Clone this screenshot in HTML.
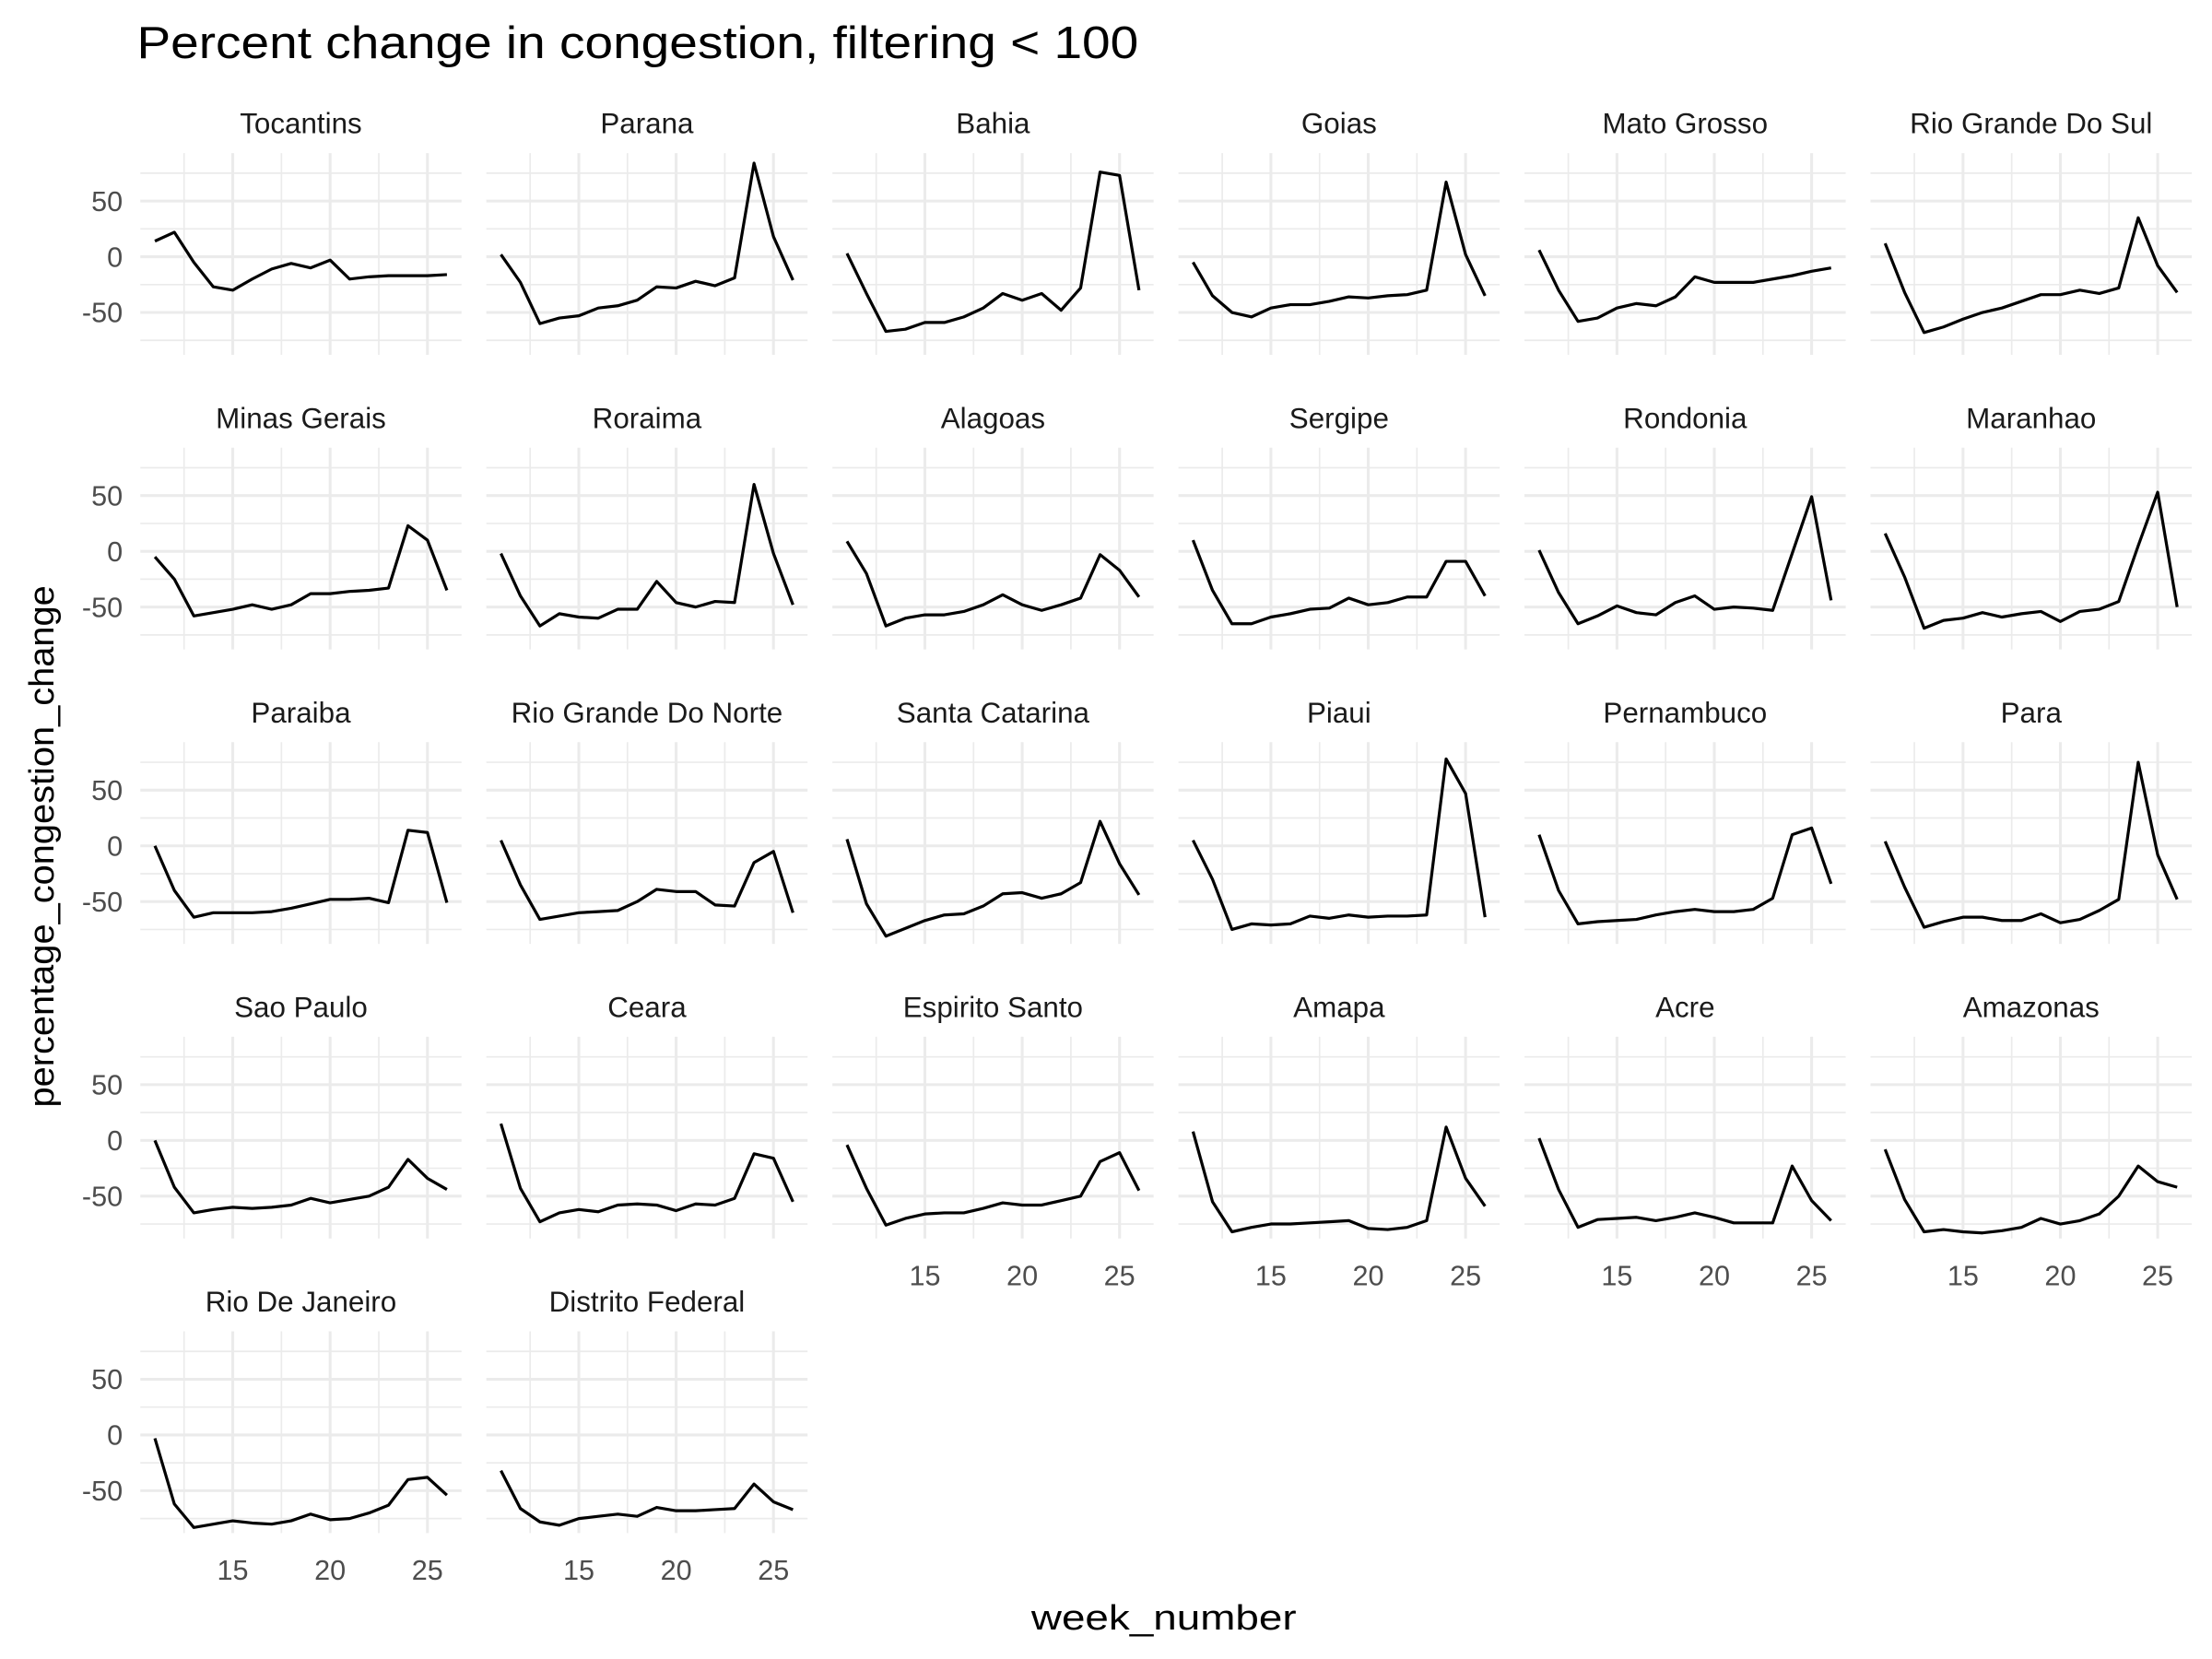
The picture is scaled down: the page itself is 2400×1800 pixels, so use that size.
<!DOCTYPE html>
<html><head><meta charset="utf-8"><style>
html,body{margin:0;padding:0;background:#fff}
svg{display:block}
text{font-family:"Liberation Sans",Arial,sans-serif}
</style></head><body>
<svg id="chart" width="2400" height="1800" viewBox="0 0 1568 1176" xmlns="http://www.w3.org/2000/svg">
<rect width="1568" height="1176" fill="#fff"/>
<text x="97" y="41" font-size="32" textLength="710" lengthAdjust="spacingAndGlyphs" fill="#000">Percent change in congestion, filtering &lt; 100</text>
<text transform="translate(38,600) rotate(-90)" text-anchor="middle" font-size="25" textLength="370" lengthAdjust="spacingAndGlyphs" fill="#000">percentage_congestion_change</text>
<text x="825" y="1155" text-anchor="middle" font-size="25" textLength="188" lengthAdjust="spacingAndGlyphs" fill="#000">week_number</text>
<g id="panels"></g>
</svg>
<script>
const weeks = [11,12,13,14,15,16,17,18,19,20,21,22,23,24,25,26];
const states = ["Tocantins","Parana","Bahia","Goias","Mato Grosso","Rio Grande Do Sul","Minas Gerais","Roraima","Alagoas","Sergipe","Rondonia","Maranhao","Paraiba","Rio Grande Do Norte","Santa Catarina","Piaui","Pernambuco","Para","Sao Paulo","Ceara","Espirito Santo","Amapa","Acre","Amazonas","Rio De Janeiro","Distrito Federal"];
const sTocantins = [14,22,-5,-27,-30,-20,-11,-6,-10,-3,-20,-18,-17,-17,-17,-16];
const sParana = [2,-23,-60,-55,-53,-46,-44,-39,-27,-28,-22,-26,-19,84,18,-21];
const sBahia = [3,-33,-67,-65,-59,-59,-54,-46,-33,-39,-33,-48,-28,76,73,-30];
const sGoias = [-5,-35,-50,-54,-46,-43,-43,-40,-36,-37,-35,-34,-30,67,2,-35];
const sMatoGrosso = [6,-30,-58,-55,-46,-42,-44,-36,-18,-23,-23,-23,-20,-17,-13,-10];
const sRioGrandeDoSul = [12,-32,-68,-63,-56,-50,-46,-40,-34,-34,-30,-33,-28,35,-8,-32];
const sMinasGerais = [-5,-25,-58,-55,-52,-48,-52,-48,-38,-38,-36,-35,-33,23,10,-35];
const sRoraima = [-2,-40,-67,-56,-59,-60,-52,-52,-27,-46,-50,-45,-46,60,-2,-48];
const sAlagoas = [9,-20,-67,-60,-57,-57,-54,-48,-39,-48,-53,-48,-42,-3,-17,-41];
const sSergipe = [10,-35,-65,-65,-59,-56,-52,-51,-42,-48,-46,-41,-41,-9,-9,-40];
const sRondonia = [1,-37,-65,-58,-49,-55,-57,-46,-40,-52,-50,-51,-53,-2,49,-44];
const sMaranhao = [16,-23,-69,-62,-60,-55,-59,-56,-54,-63,-54,-52,-45,5,53,-50];
const sParaiba = [0,-40,-64,-60,-60,-60,-59,-56,-52,-48,-48,-47,-51,14,12,-51];
const sRioGrandeDoNorte = [5,-35,-66,-63,-60,-59,-58,-50,-39,-41,-41,-53,-54,-15,-5,-60];
const sSantaCatarina = [6,-52,-81,-74,-67,-62,-61,-54,-43,-42,-47,-43,-33,22,-16,-44];
const sPiaui = [5,-30,-75,-70,-71,-70,-63,-65,-62,-64,-63,-63,-62,78,47,-64];
const sPernambuco = [10,-40,-70,-68,-67,-66,-62,-59,-57,-59,-59,-57,-47,10,16,-34];
const sPara = [4,-37,-73,-68,-64,-64,-67,-67,-61,-69,-66,-58,-48,75,-8,-48];
const sSaoPaulo = [0,-42,-65,-62,-60,-61,-60,-58,-52,-56,-53,-50,-42,-17,-34,-44];
const sCeara = [15,-43,-73,-65,-62,-64,-58,-57,-58,-63,-57,-58,-52,-12,-16,-55];
const sEspiritoSanto = [-4,-43,-76,-70,-66,-65,-65,-61,-56,-58,-58,-54,-50,-19,-11,-45];
const sAmapa = [8,-55,-82,-78,-75,-75,-74,-73,-72,-79,-80,-78,-72,12,-34,-59];
const sAcre = [2,-44,-78,-71,-70,-69,-72,-69,-65,-69,-74,-74,-74,-23,-54,-72];
const sAmazonas = [-8,-53,-82,-80,-82,-83,-81,-78,-70,-75,-72,-66,-50,-23,-37,-42];
const sRioDeJaneiro = [-3,-62,-83,-80,-77,-79,-80,-77,-71,-76,-75,-70,-63,-40,-38,-54];
const sDistritoFederal = [-32,-66,-78,-81,-75,-73,-71,-73,-65,-68,-68,-67,-66,-44,-60,-67];
const series = [sTocantins,sParana,sBahia,sGoias,sMatoGrosso,sRioGrandeDoSul,sMinasGerais,sRoraima,sAlagoas,sSergipe,sRondonia,sMaranhao,sParaiba,sRioGrandeDoNorte,sSantaCatarina,sPiaui,sPernambuco,sPara,sSaoPaulo,sCeara,sEspiritoSanto,sAmapa,sAcre,sAmazonas,sRioDeJaneiro,sDistritoFederal];
const yTicks = [-50,0,50];
const yMinor = [-75,-25,25,75];
const xTicks = [15,20,25];
const xMinor = [12.5,17.5,22.5];

const NS = "http://www.w3.org/2000/svg";
const COLW = 245.3, ROWH = 208.8;
const XMIN = 10.25, XMAX = 26.75, YMIN = -88, YMAX = 93;
function xs(w, c){ return 165 + (w-15)*13.8 + c*COLW; }
function ys(v, r){ return 182 + r*ROWH - v*0.79; }
function mk(tag, attrs){ const e=document.createElementNS(NS,tag); for(const k in attrs) e.setAttribute(k,attrs[k]); return e; }
const root = document.getElementById('panels');
const nCols = 6;
states.forEach((name, i) => {
  const r = Math.floor(i / nCols), c = i % nCols;
  const g = mk('g', {});
  
  
  const x0 = xs(XMIN,c), x1 = xs(XMAX,c), y0 = ys(YMAX,r), y1 = ys(YMIN,r);
  yMinor.forEach(v => { const l = mk('line',{x1:x0,x2:x1,y1:ys(v,r),y2:ys(v,r),stroke:'#ebebeb','stroke-width':1.1});
      g.appendChild(l); });
  xMinor.forEach(w => { const l = mk('line',{x1:xs(w,c),x2:xs(w,c),y1:y0,y2:y1,stroke:'#ebebeb','stroke-width':1.1});
      g.appendChild(l); });
  yTicks.forEach(v => { const l = mk('line',{x1:x0,x2:x1,y1:ys(v,r),y2:ys(v,r),stroke:'#ebebeb','stroke-width':2});
      g.appendChild(l); });
  xTicks.forEach(w => { const l = mk('line',{x1:xs(w,c),x2:xs(w,c),y1:y0,y2:y1,stroke:'#ebebeb','stroke-width':2});
      g.appendChild(l); });
  const t = mk('text',{x:(x0+x1)/2, y:y0-14, 'text-anchor':'middle','font-size':20.5,fill:'#1a1a1a'});
  t.textContent = name;
  
  
  g.appendChild(t);
  if (c === 0) {
    yTicks.forEach(v => { const tt = mk('text',{x:87,y:ys(v,r)+7,'text-anchor':'end','font-size':20,fill:'#4d4d4d'});
      tt.textContent = v;
      
      
      g.appendChild(tt); });
  }
  const lastRow = (i + nCols >= states.length);
  if (lastRow) {
    xTicks.forEach(w => { const tt = mk('text',{x:xs(w,c),y:y1+33,'text-anchor':'middle','font-size':20,fill:'#4d4d4d'});
      tt.textContent = w;
      
      
      g.appendChild(tt); });
  }
  const vals = series[i];
  const d = weeks.map((w,k) => (k?'L':'M') + xs(w,c).toFixed(2) + ',' + ys(vals[k],r).toFixed(2)).join(' ');
  const p = mk('path',{d:d, fill:'none', stroke:'#000', 'stroke-width':2.1, 'stroke-linejoin':'round'});
  
  
  g.appendChild(p);
  root.appendChild(g);
});
</script>
</body></html>
